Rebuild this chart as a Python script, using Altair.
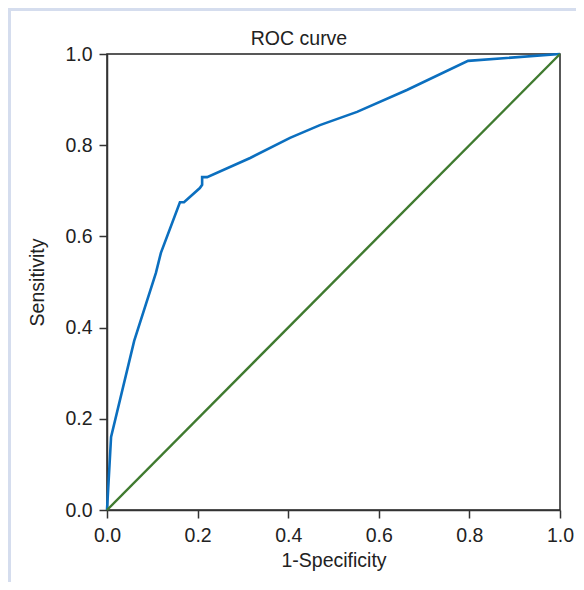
import altair as alt
import pandas as pd

# ROC curve points (1-Specificity, Sensitivity)
fpr = [0.0, 0.009, 0.060, 0.108, 0.119, 0.161, 0.170, 0.205, 0.210, 0.210,
       0.221, 0.316, 0.404, 0.470, 0.552, 0.662, 0.797, 1.0]
tpr = [0.0, 0.160, 0.371, 0.520, 0.564, 0.675, 0.675, 0.706, 0.713, 0.730,
       0.730, 0.772, 0.816, 0.844, 0.873, 0.921, 0.985, 1.0]
diag_x = [0.0, 1.0]
diag_y = [0.0, 1.0]
ticks = [0.0, 0.2, 0.4, 0.6, 0.8, 1.0]
title_text = ["ROC curve"]

FONT = "Liberation Sans"
FS = 19.5

roc = pd.DataFrame({"x": fpr, "y": tpr, "i": list(range(len(fpr)))})
diag = pd.DataFrame({"x": diag_x, "y": diag_y, "i": [0, 1]})

xs = alt.Scale(domain=[0, 1], nice=False, zero=False)
ys = alt.Scale(domain=[0, 1], nice=False, zero=False)

xaxis = alt.Axis(values=ticks, format=".1f", title="1-Specificity", grid=False,
                 labelPadding=8, titlePadding=7, labelFlush=False)
yaxis = alt.Axis(values=ticks, format=".1f", title="Sensitivity", grid=False,
                 labelPadding=7, labelFlush=False, titleX=-64, titleY=228,
                 titleBaseline="alphabetic", titleAlign="center", titleAngle=-90)

one = alt.Data(values=[{"a": 1}])

left_strip = alt.Chart(one).mark_rect(color="#d5ddee").encode(
    x=alt.value(-99), x2=alt.value(-96), y=alt.value(-46), y2=alt.value(536))
top_strip = alt.Chart(one).mark_rect(color="#d5ddee").encode(
    x=alt.value(-99), x2=alt.value(477), y=alt.value(-46), y2=alt.value(-43))

title_mark = alt.Chart(alt.Data(values=[{"t": title_text[0]}])).mark_text(
    font=FONT, fontSize=FS, color="#222", align="center", baseline="alphabetic"
).encode(text="t:N", x=alt.value(192), y=alt.value(-9))

roc_line = alt.Chart(roc).mark_line(color="#0b6fbf", strokeWidth=2.6).encode(
    x=alt.X("x:Q", scale=xs, axis=xaxis),
    y=alt.Y("y:Q", scale=ys, axis=yaxis),
    order="i:Q",
)
diag_line = alt.Chart(diag).mark_line(color="#3f7a2f", strokeWidth=2.4).encode(
    x=alt.X("x:Q", scale=xs),
    y=alt.Y("y:Q", scale=ys),
    order="i:Q",
)

chart = alt.layer(left_strip, top_strip, title_mark, roc_line, diag_line).properties(
    width=453, height=456,
    autosize=alt.AutoSizeParams(type="none"),
    padding={"left": 99, "top": 46, "right": 16, "bottom": 72},
    background="white",
).configure_view(
    stroke="#222", strokeWidth=1.5
).configure_axis(
    labelFont=FONT, labelFontSize=FS, labelColor="#222",
    titleFont=FONT, titleFontSize=FS, titleColor="#222", titleFontWeight="normal",
    domainColor="#333", domainWidth=1.5, tickColor="#333", tickWidth=1.5, tickSize=8,
)

chart.save("out.html", embed_options={"renderer": "svg", "actions": False})
